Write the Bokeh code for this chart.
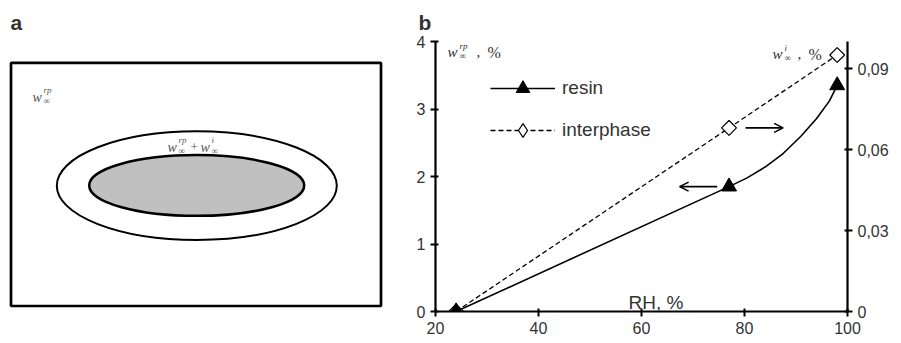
import numpy as np
from bokeh.plotting import figure
from bokeh.models import (Range1d, LinearAxis, FixedTicker, CustomJSTickFormatter,
                          Legend, LegendItem, Arrow, OpenHead, Label)
from bokeh.layouts import row
from bokeh.embed import file_html
from bokeh.resources import INLINE

# ---------------- data (panel b) ----------------
rh = [24, 77, 98]                      # relative humidity, %
resin_w = [0, 1.85, 3.35]              # w_inf^rp, % (left axis)
interphase_w = [0, 0.068, 0.095]       # w_inf^i, % (right axis)
# smooth resin curve as drawn in the picture
resin_curve_rh = [24, 77, 80.5, 84, 87.5, 91, 94, 96.5, 98]
resin_curve_w = [0, 1.85, 1.98, 2.14, 2.34, 2.60, 2.86, 3.12, 3.35]
x_ticks = [20, 40, 60, 80, 100]
left_ticks = [0, 1, 2, 3, 4]
right_ticks = [0, 0.03, 0.06, 0.09]
series_labels = ["resin", "interphase"]

TXT = "#333333"
SERIF = "Liberation Serif"
SANS = "Liberation Sans"

# frame of both panels spans page rows 40..311
TOP, BOTTOM = 40, 311

# ---------------- panel a : schematic ----------------
pa = figure(width=401, height=343, x_range=Range1d(0, 401), y_range=Range1d(BOTTOM, TOP),
            x_axis_type=None, y_axis_type=None, toolbar_location=None,
            output_backend="svg", min_border_left=0, min_border_right=0,
            min_border_top=TOP, min_border_bottom=343 - BOTTOM, outline_line_color=None,
            title="a")
pa.title.align = "left"
pa.title.offset = 10
pa.title.text_font = SANS
pa.title.text_font_size = "21px"
pa.title.text_font_style = "bold"
pa.title.text_color = TXT
pa.title.standoff = 16

pa.rect(x=[195.5], y=[183.5], width=[370], height=[244], fill_color=None,
        line_color="black", line_width=2.7)
pa.ellipse(x=[196.3], y=[184.7], width=[280], height=[109], fill_color="white",
           line_color="black", line_width=2)
pa.ellipse(x=[196.2], y=[184.5], width=[215], height=[61], fill_color="#c0c0c0",
           line_color="black", line_width=2.5)


def lab(fig, x, y, text, size, font=SANS, style="normal", color=TXT, **kw):
    fig.add_layout(Label(x=x, y=y, text=text, text_font=font, text_font_size=f"{size}px",
                         text_font_style=style, text_color=color,
                         text_baseline="alphabetic", text_align="left", **kw))


GR = "#555555"
# w_inf^rp  in outer matrix
lab(pa, 32, 96, "w", 14, SERIF, "italic", GR)
lab(pa, 43, 89, "rp", 9, SERIF, "italic", GR)
lab(pa, 43, 100, "∞", 9, SERIF, "normal", GR)
# w_inf^rp + w_inf^i  in interphase ring
lab(pa, 167, 146, "w", 14, SERIF, "italic", GR)
lab(pa, 178, 139, "rp", 9, SERIF, "italic", GR)
lab(pa, 178, 150, "∞", 9, SERIF, "normal", GR)
lab(pa, 190, 146, "+", 13, SERIF, "normal", GR)
lab(pa, 200, 146, "w", 14, SERIF, "italic", GR)
lab(pa, 211, 139, "i", 9, SERIF, "italic", GR)
lab(pa, 211, 150, "∞", 9, SERIF, "normal", GR)

# ---------------- panel b : sorption vs RH ----------------
pb = figure(width=500, height=343, x_range=Range1d(20, 100), y_range=Range1d(0, 4),
            toolbar_location=None, output_backend="svg",
            min_border_left=34, min_border_right=54, min_border_top=TOP,
            min_border_bottom=343 - BOTTOM, outline_line_color=None, title="b")
pb.title.align = "left"
pb.title.offset = -17
pb.title.text_font = SANS
pb.title.text_font_size = "21px"
pb.title.text_font_style = "bold"
pb.title.text_color = TXT
pb.title.standoff = 16

pb.extra_y_ranges = {"right": Range1d(0, 0.1)}
raxis = LinearAxis(y_range_name="right")
pb.add_layout(raxis, "right")
pb.grid.visible = False

pb.xaxis.ticker = FixedTicker(ticks=x_ticks)
pb.yaxis[0].ticker = FixedTicker(ticks=left_ticks)
raxis.ticker = FixedTicker(ticks=right_ticks)
raxis.formatter = CustomJSTickFormatter(
    code="return tick === 0 ? '0' : tick.toFixed(2).replace('.', ',');")

for ax in [pb.xaxis[0], pb.yaxis[0], raxis]:
    ax.axis_line_width = 2.2
    ax.axis_line_color = "black"
    ax.major_tick_line_width = 2
    ax.major_tick_line_color = "black"
    ax.major_tick_out = 5
    ax.major_tick_in = 3
    ax.minor_tick_line_color = None
    ax.major_label_text_font = SANS
    ax.major_label_text_font_size = "16px"
    ax.major_label_text_color = TXT
    ax.major_label_standoff = 5


# frame geometry (page pixels) -> data, for annotation placement only
def bx(px):
    return 20 + (px - 435) * 80 / 412


def by(py):
    return (BOTTOM - py) * 4 / (BOTTOM - TOP)


r_int_line = pb.line(rh, interphase_w, y_range_name="right", line_color="black",
                     line_width=1.3, line_dash="5 3")
# diamond used as legend key; it sits hidden under the rotated squares below
r_int_key = pb.scatter(rh, interphase_w, y_range_name="right", marker="diamond",
                       size=14, fill_color="white", line_color="black", line_width=1.2)
r_int_pts = pb.scatter(rh, interphase_w, y_range_name="right", marker="square",
                       angle=np.pi / 4, size=10.5, fill_color="white",
                       line_color="black", line_width=1.2)
r_res_line = pb.line(resin_curve_rh, resin_curve_w, line_color="black", line_width=1.6)
r_res_pts = pb.scatter(rh, resin_w, marker="triangle", size=15, fill_color="black",
                       line_color="black")

legend = Legend(items=[LegendItem(label=series_labels[0], renderers=[r_res_line, r_res_pts]),
                       LegendItem(label=series_labels[1], renderers=[r_int_line, r_int_key])],
                location=(55, 164), orientation="vertical", glyph_width=65, glyph_height=34,
                spacing=8, label_standoff=7, label_text_font=SANS, label_text_font_size="19px",
                label_text_color=TXT, border_line_color=None, background_fill_alpha=0,
                padding=0, margin=0)
pb.add_layout(legend)

# arrows pointing to the axis each curve belongs to
pb.add_layout(Arrow(end=OpenHead(size=9, line_width=1.6, line_color="black"),
                    x_start=rh[1] + 3.2, x_end=rh[1] + 10.5,
                    y_start=interphase_w[1], y_end=interphase_w[1], y_range_name="right",
                    line_width=1.6, line_color="black"))
pb.add_layout(Arrow(end=OpenHead(size=9, line_width=1.6, line_color="black"),
                    x_start=rh[1] - 2.3, x_end=rh[1] - 9.6,
                    y_start=resin_w[1], y_end=resin_w[1],
                    line_width=1.6, line_color="black"))

# axis titles
lab(pb, bx(628), by(302), "RH, %", 19)
# left: w_inf^rp, %
lab(pb, bx(447), by(51), "w", 15, SERIF, "italic")
lab(pb, bx(459), by(45), "rp", 9, SERIF, "italic")
lab(pb, bx(459), by(55), "∞", 9, SERIF)
lab(pb, bx(476), by(51), ",", 15, SERIF)
lab(pb, bx(487), by(51), "%", 16, SERIF)
# right: w_inf^i, %
lab(pb, bx(772), by(53), "w", 15, SERIF, "italic")
lab(pb, bx(784), by(47), "i", 9, SERIF, "italic")
lab(pb, bx(784), by(57), "∞", 9, SERIF)
lab(pb, bx(797), by(53), ",", 15, SERIF)
lab(pb, bx(808), by(53), "%", 16, SERIF)

layout = row(pa, pb)
open("out.html", "w").write(file_html(layout, INLINE))
